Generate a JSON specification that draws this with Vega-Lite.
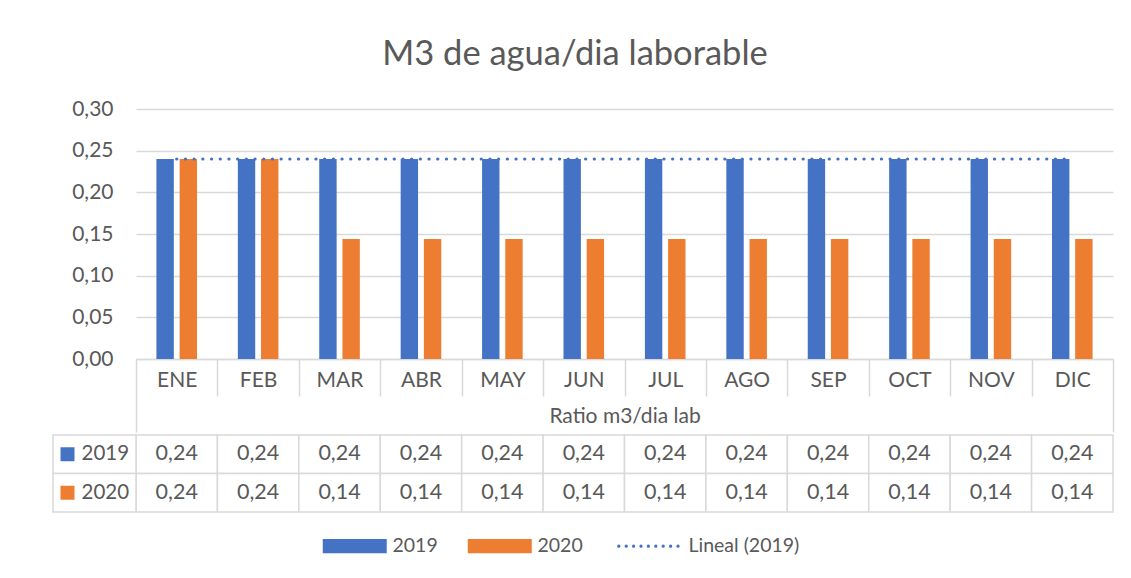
{
  "$schema": "https://vega.github.io/schema/vega-lite/v6.json",
  "background": "white",
  "padding": {"top": 36, "left": 52, "right": 5, "bottom": 5},
  "title": {"text": "M3 de agua/dia laborable", "font": "Lato", "fontSize": 34.5, "fontWeight": "normal", "color": "#595959", "anchor": "middle", "offset": 26, "dx": -8},
  "datasets": {
    "bars": [
      {"month": "ENE", "year": "2019", "value": 0.24},
      {"month": "FEB", "year": "2019", "value": 0.24},
      {"month": "MAR", "year": "2019", "value": 0.24},
      {"month": "ABR", "year": "2019", "value": 0.24},
      {"month": "MAY", "year": "2019", "value": 0.24},
      {"month": "JUN", "year": "2019", "value": 0.24},
      {"month": "JUL", "year": "2019", "value": 0.24},
      {"month": "AGO", "year": "2019", "value": 0.24},
      {"month": "SEP", "year": "2019", "value": 0.24},
      {"month": "OCT", "year": "2019", "value": 0.24},
      {"month": "NOV", "year": "2019", "value": 0.24},
      {"month": "DIC", "year": "2019", "value": 0.24},
      {"month": "ENE", "year": "2020", "value": 0.24},
      {"month": "FEB", "year": "2020", "value": 0.24},
      {"month": "MAR", "year": "2020", "value": 0.144},
      {"month": "ABR", "year": "2020", "value": 0.144},
      {"month": "MAY", "year": "2020", "value": 0.144},
      {"month": "JUN", "year": "2020", "value": 0.144},
      {"month": "JUL", "year": "2020", "value": 0.144},
      {"month": "AGO", "year": "2020", "value": 0.144},
      {"month": "SEP", "year": "2020", "value": 0.144},
      {"month": "OCT", "year": "2020", "value": 0.144},
      {"month": "NOV", "year": "2020", "value": 0.144},
      {"month": "DIC", "year": "2020", "value": 0.144}
    ]
  },
  "resolve": {"scale": {"color": "shared"}, "legend": {"color": "shared"}},
  "spacing": 1,
  "vconcat": [
    {
      "width": 977,
      "height": 250,
      "data": {"name": "bars"},
      "layer": [
        {
          "mark": {"type": "bar"},
          "encoding": {
            "x": {
              "field": "month", "type": "nominal",
              "sort": ["ENE","FEB","MAR","ABR","MAY","JUN","JUL","AGO","SEP","OCT","NOV","DIC"],
              "scale": {"paddingInner": 0, "paddingOuter": 0},
              "axis": {
                "title": "Ratio m3/dia lab",
                "tickBand": "extent",
                "tickSize": {"condition": {"test": "datum.value === 'DIC' || datum.extra", "value": 73}, "value": 37},
                "tickColor": "#d9d9d9", "tickWidth": 1.5,
                "domainColor": "#d9d9d9", "domainWidth": 1.5,
                "labelAngle": 0, "labelFont": "Lato", "labelFontSize": 21, "labelColor": "#595959",
                "labelPadding": {"condition": {"test": "datum.value === 'DIC' || datum.extra", "value": -63}, "value": -27},
                "titleFont": "Lato", "titleFontSize": 21, "titleFontWeight": "normal", "titleColor": "#595959",
                "titlePadding": -27,
                "grid": false
              }
            },
            "xOffset": {"field": "year", "type": "nominal", "scale": {"paddingInner": 0.25, "paddingOuter": 0.88}},
            "y": {
              "field": "value", "type": "quantitative",
              "scale": {"domain": [0, 0.3], "nice": false},
              "axis": {
                "title": null,
                "values": [0, 0.05, 0.1, 0.15, 0.2, 0.25, 0.3],
                "labelExpr": "replace(format(datum.value, '.2f'), '.', ',')",
                "domain": false, "ticks": false,
                "gridColor": "#d9d9d9", "gridWidth": 1.5,
                "labelFont": "Lato", "labelFontSize": 21, "labelColor": "#595959", "labelPadding": 23
              }
            },
            "color": {
              "field": "year", "type": "nominal",
              "scale": {"domain": ["2019", "2020", "Lineal (2019)"], "range": ["#4472C4", "#ED7D31", "#4472C4"]},
              "legend": {
                "title": null, "orient": "none", "direction": "horizontal",
                "legendX": 209, "legendY": 427,
                "symbolType": "M-1,-0.22H1V0.22H-1Z", "symbolSize": 4096, "symbolStrokeWidth": 0,
                "labelFont": "Lato", "labelFontSize": 19.5, "labelColor": "#595959",
                "labelOffset": 28, "columnPadding": 29,
                "encode": {
                  "symbols": {
                    "update": {
                      "shape": {"signal": "datum.value === 'Lineal (2019)' ? 'M-1,0H1' : 'M-1,-0.22H1V0.22H-1Z'"},
                      "size": {"value": 4096},
                      "fill": {"signal": "datum.value === 'Lineal (2019)' ? 'transparent' : datum.value === '2019' ? '#4472C4' : '#ED7D31'"},
                      "stroke": {"signal": "datum.value === 'Lineal (2019)' ? '#4472C4' : 'transparent'"},
                      "strokeWidth": {"signal": "datum.value === 'Lineal (2019)' ? 3.2 : 0"},
                      "strokeDash": {"signal": "datum.value === 'Lineal (2019)' ? [0.1, 7.3] : [1, 0]"},
                      "strokeCap": {"value": "round"},
                      "opacity": {"value": 1}
                    }
                  }
                }
              }
            }
          }
        },
        {
          "transform": [{"filter": "datum.year === '2019'"}],
          "mark": {"type": "line", "strokeDash": [0.1, 8.6], "strokeWidth": 3.2, "strokeCap": "round"},
          "encoding": {
            "x": {"field": "month", "type": "nominal", "sort": ["ENE","FEB","MAR","ABR","MAY","JUN","JUL","AGO","SEP","OCT","NOV","DIC"]},
            "y": {"field": "value", "type": "quantitative"},
            "color": {"datum": "Lineal (2019)"}
          }
        }
      ]
    },
    {
      "width": 977,
      "height": 77,
      "data": {"name": "bars"},
      "resolve": {"scale": {"x": "independent"}},
      "layer": [
        {
          "mark": {"type": "rect", "fill": "white", "stroke": "#d9d9d9", "strokeWidth": 1.5},
          "encoding": {
            "x": {"field": "month", "type": "nominal", "sort": ["ENE","FEB","MAR","ABR","MAY","JUN","JUL","AGO","SEP","OCT","NOV","DIC"], "scale": {"paddingInner": 0, "paddingOuter": 0}, "axis": null},
            "y": {"field": "year", "type": "nominal", "scale": {"paddingInner": 0, "paddingOuter": 0}, "axis": null}
          }
        },
        {
          "mark": {"type": "text", "font": "Lato", "fontSize": 21.5, "color": "#595959"},
          "encoding": {
            "x": {"field": "month", "type": "nominal", "sort": ["ENE","FEB","MAR","ABR","MAY","JUN","JUL","AGO","SEP","OCT","NOV","DIC"], "axis": null},
            "y": {"field": "year", "type": "nominal", "axis": null},
            "text": {"field": "value", "type": "quantitative", "format": ".2f"}
          }
        },
        {
          "transform": [{"filter": "datum.month === 'ENE'"}],
          "layer": [
            {
              "mark": {"type": "rect", "fill": "white", "stroke": "#d9d9d9", "strokeWidth": 1.5},
              "encoding": {
                "x": {"datum": "Serie", "type": "nominal", "scale": {"range": [-83, 0], "paddingInner": 0, "paddingOuter": 0}, "axis": null},
                "y": {"field": "year", "type": "nominal", "axis": null}
              }
            },
            {
              "mark": {"type": "point", "shape": "square", "filled": true, "size": 196, "opacity": 1, "xOffset": -27},
              "encoding": {
                "x": {"datum": "Serie", "type": "nominal", "axis": null},
                "y": {"field": "year", "type": "nominal", "axis": null},
                "color": {"field": "year", "type": "nominal"}
              }
            },
            {
              "mark": {"type": "text", "font": "Lato", "fontSize": 20.5, "color": "#595959", "align": "left", "xOffset": -13},
              "encoding": {
                "x": {"datum": "Serie", "type": "nominal", "axis": null},
                "y": {"field": "year", "type": "nominal", "axis": null},
                "text": {"field": "year", "type": "nominal"}
              }
            }
          ]
        }
      ]
    }
  ],
  "config": {
    "view": {"stroke": null},
    "font": "Lato",
    "locale": {"number": {"decimal": ",", "thousands": ".", "grouping": [3], "currency": ["", " €"]}}
  }
}
